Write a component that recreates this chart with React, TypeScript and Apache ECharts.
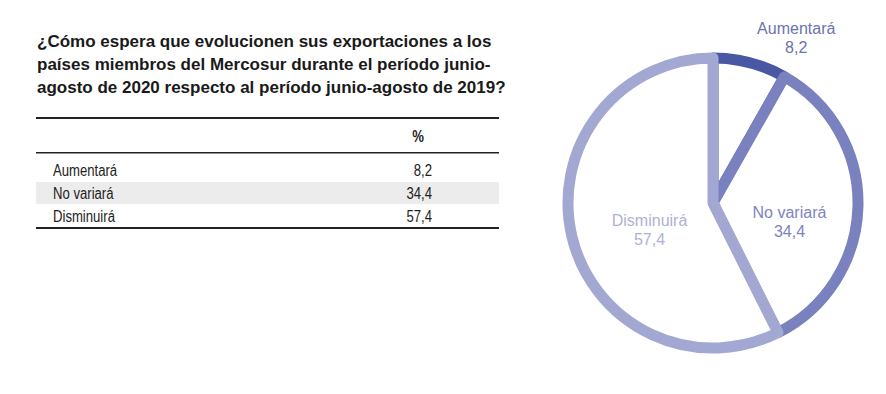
import React, { useEffect, useRef } from "react";
import * as echarts from "echarts";

const titleLines = [
  "¿Cómo espera que evolucionen sus exportaciones a los",
  "países miembros del Mercosur durante el período junio-",
  "agosto de 2020 respecto al período junio-agosto de 2019?",
];
const categories = ["Aumentará", "No variará", "Disminuirá"];
const values = [8.2, 34.4, 57.4];
const valueLabels = ["8,2", "34,4", "57,4"];
const headerLabel = "%";

const sliceColors = ["#4a58a4", "#7a81bf", "#a3a8d3"];
const labelColors = ["#6c73ab", "#7d84bf", "#adb1d6"];
const labelOffsets = [
  [64, -92],
  [1, 17],
  [10, 10],
];

export default function App() {
  const ref = useRef<HTMLDivElement>(null);
  useEffect(() => {
    document.body.style.margin = "0";
    const chart = echarts.init(ref.current!, null, { renderer: "svg" });
    const tableFont = '"Liberation Sans", Arial, sans-serif';
    const narrow = 0.82;
    const graphics: any[] = [];
    titleLines.forEach((t, i) => {
      graphics.push({
        type: "text",
        left: 37,
        top: 33 + i * 23,
        style: {
          text: t,
          font: 'bold 17px "Liberation Sans", Arial, sans-serif',
          fill: "#1a1a1a",
        },
      });
    });
    // table rules
    graphics.push({ type: "rect", shape: { x: 36, y: 117, width: 463, height: 2 }, style: { fill: "#222" } });
    graphics.push({ type: "rect", shape: { x: 36, y: 152, width: 463, height: 1.5 }, style: { fill: "#222" } });
    graphics.push({ type: "rect", shape: { x: 36, y: 182, width: 463, height: 22 }, style: { fill: "#ececec" } });
    graphics.push({ type: "rect", shape: { x: 36, y: 227, width: 463, height: 2 }, style: { fill: "#222" } });
    graphics.push({
      type: "text",
      x: 418,
      y: 137,
      scaleX: narrow,
      style: {
        text: headerLabel,
        font: "bold 16px " + tableFont,
        fill: "#222",
        align: "center",
        verticalAlign: "middle",
      },
    });
    categories.forEach((c, i) => {
      const y = 171 + i * 23;
      graphics.push({
        type: "text",
        x: 53,
        y,
        scaleX: narrow,
        style: { text: c, font: "16px " + tableFont, fill: "#222", verticalAlign: "middle" },
      });
      graphics.push({
        type: "text",
        x: 432,
        y,
        scaleX: narrow,
        style: { text: valueLabels[i], font: "16px " + tableFont, fill: "#222", align: "right", verticalAlign: "middle" },
      });
    });

    chart.setOption({
      animation: false,
      graphic: graphics,
      series: [
        {
          type: "pie",
          center: [713, 203],
          radius: [0, 145],
          startAngle: 90,
          clockwise: true,
          silent: true,
          avoidLabelOverlap: false,
          data: categories.map((c, i) => ({
            name: c,
            value: values[i],
            itemStyle: { color: "#ffffff", borderColor: sliceColors[i], borderWidth: 11 },
            label: { color: labelColors[i] },
          })),
          label: {
            show: true,
            position: "inside",
            formatter: (p: any) => p.name + "\n" + valueLabels[p.dataIndex],
            fontSize: 16,
            lineHeight: 19,
            fontFamily: '"Liberation Sans", Arial, sans-serif',
          },
          labelLine: { show: false },
          labelLayout: (p: any) => ({ dx: labelOffsets[p.dataIndex][0], dy: labelOffsets[p.dataIndex][1] }),
        },
      ],
    });
    return () => chart.dispose();
  }, []);
  return <div ref={ref} style={{ width: 886, height: 394, background: "#fff" }} />;
}
